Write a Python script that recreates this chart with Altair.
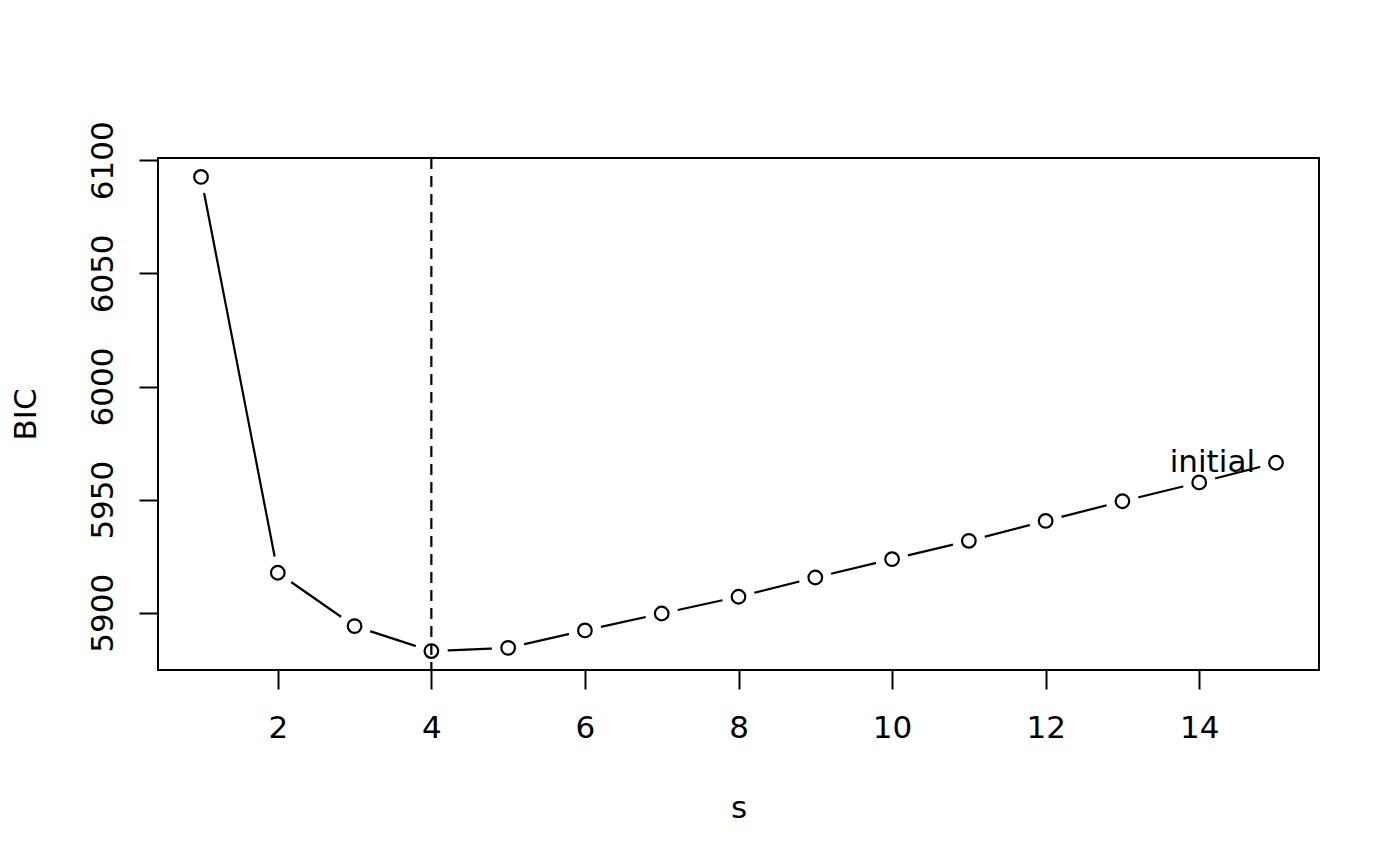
import altair as alt
import pandas as pd

# Data
s_values = list(range(1, 16))
bic_values = [6092.6, 5917.7, 5894.1, 5883.1, 5884.5, 5892.2, 5899.7, 5907.1,
              5915.6, 5923.7, 5931.8, 5940.6, 5949.3, 5957.6, 5966.3]
best_s = [4]
label_s = [15]
label_text = ["initial"]
x_ticks = [2, 4, 6, 8, 10, 12, 14]
y_ticks = [5900, 5950, 6000, 6050, 6100]

df = pd.DataFrame({"s": s_values, "BIC": bic_values})
df_rule = pd.DataFrame({"s": best_s})
df_label = pd.DataFrame({"s": label_s,
                         "BIC": [bic_values[s_values.index(v)] for v in label_s],
                         "txt": label_text})

# R-style 4% axis extension
xr = max(s_values) - min(s_values)
yr = max(bic_values) - min(bic_values)
x_dom = [min(s_values) - 0.04 * xr, max(s_values) + 0.04 * xr]
y_dom = [min(bic_values) - 0.04 * yr, max(bic_values) + 0.04 * yr]

FONT = "DejaVu Sans"
FS = 31

W, H = 1161, 512

x_enc = alt.X("s:Q", scale=alt.Scale(domain=x_dom, nice=False, zero=False),
              axis=alt.Axis(values=x_ticks, format="d", title="s", grid=False, domain=False,
                            tickSize=19, tickWidth=2, tickColor="black",
                            labelFont=FONT, labelFontSize=FS, labelColor="black",
                            labelBaseline="alphabetic", labelPadding=48,
                            labelFlush=False, labelOverlap=False,
                            titleFont=FONT, titleFontSize=FS, titleColor="black",
                            titleFontWeight="normal", titleBaseline="alphabetic",
                            titleAlign="center", titleX=W / 2, titleY=147))
y_enc = alt.Y("BIC:Q", scale=alt.Scale(domain=y_dom, nice=False, zero=False),
              axis=alt.Axis(values=y_ticks, format="d", title="BIC", grid=False, domain=False,
                            tickSize=19, tickWidth=2, tickColor="black",
                            labelFont=FONT, labelFontSize=FS, labelColor="black",
                            labelAngle=270, labelAlign="center",
                            labelBaseline="alphabetic", labelPadding=27,
                            labelFlush=False, labelOverlap=False,
                            titleFont=FONT, titleFontSize=FS, titleColor="black",
                            titleFontWeight="normal", titleAngle=270,
                            titleAlign="center", titleBaseline="alphabetic",
                            titleX=-123, titleY=H / 2))

base = alt.Chart(df).encode(x=x_enc, y=y_enc)

line = base.mark_line(color="black", strokeWidth=2.2)
halo = base.mark_point(shape="circle", filled=True, color="white", opacity=1,
                       size=1075, strokeWidth=0)
pts = base.mark_point(shape="circle", filled=False, color="black", opacity=1,
                      size=185, strokeWidth=2.2)
rule = alt.Chart(df_rule).mark_rule(color="black", strokeWidth=2.2,
                                    strokeDash=[11, 7]).encode(x="s:Q")
text = alt.Chart(df_label).mark_text(font=FONT, fontSize=FS, color="black",
                                     align="right", baseline="alphabetic",
                                     dx=-21, dy=9).encode(x="s:Q", y="BIC:Q",
                                                         text="txt:N")

chart = alt.layer(line, halo, pts, rule, text).properties(
    width=W, height=H,
    background="white",
    autosize=alt.AutoSizeParams(type="none"),
    padding={"left": 150, "top": 150, "right": 73, "bottom": 188},
).configure_view(stroke="black", strokeWidth=2)

chart.save("out.html", embed_options={"renderer": "svg", "actions": False})
